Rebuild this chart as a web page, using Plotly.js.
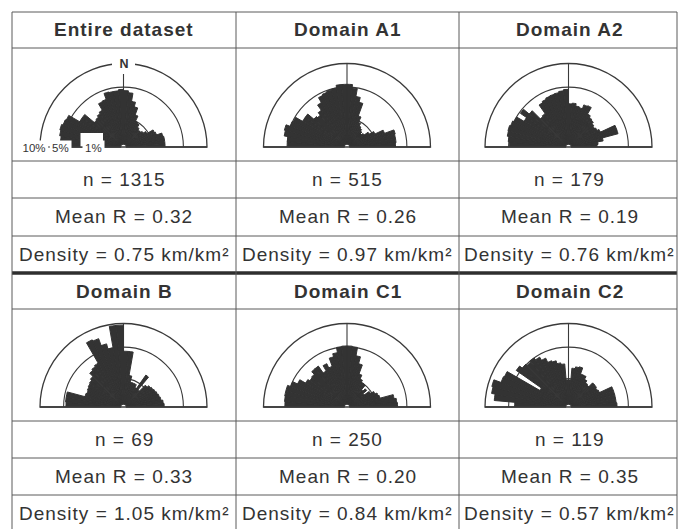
<!DOCTYPE html>
<html><head><meta charset="utf-8">
<script src="https://cdn.plot.ly/plotly-3.0.1.min.js"></script>
<style>
html,body{margin:0;padding:0;background:#fff}
.annotation-text{letter-spacing:1px}
.annotation[data-index="24"] .annotation-text,.annotation[data-index="25"] .annotation-text,.annotation[data-index="26"] .annotation-text,.annotation[data-index="27"] .annotation-text{letter-spacing:0}
</style>
</head><body>
<div id="chart" style="width:679px;height:529px"></div>
<script>
// ---------- data ----------
const panelTitles = ['Entire dataset','Domain A1','Domain A2','Domain B','Domain C1','Domain C2'];
const nLabels = ['n = 1315','n = 515','n = 179','n = 69','n = 250','n = 119'];
const meanRLabels = ['Mean R = 0.32','Mean R = 0.26','Mean R = 0.19','Mean R = 0.33','Mean R = 0.20','Mean R = 0.35'];
const densityLabels = ['Density = 0.75 km/km²','Density = 0.97 km/km²','Density = 0.76 km/km²','Density = 1.05 km/km²','Density = 0.84 km/km²','Density = 0.57 km/km²'];
const ringValues = [1, 5, 10];           // % rings
const ringLabels = ['1%', '5%', '10%'];
const northLabel = 'N';
// azimuth bin centres (degrees from north, west negative), 5° bins
const binCenters = [-87.5,-82.5,-77.5,-72.5,-67.5,-62.5,-57.5,-52.5,-47.5,-42.5,-37.5,-32.5,-27.5,-22.5,-17.5,-12.5,-7.5,-2.5,2.5,7.5,12.5,17.5,22.5,27.5,32.5,37.5,42.5,47.5,52.5,57.5,62.5,67.5,72.5,77.5,82.5,87.5];
// frequency (%) per bin
const entireDataset = [5.5,5.6,5.9,6.1,5.8,5.6,3.5,3.5,1.9,2.0,2.2,2.4,3.4,3.5,4.5,4.4,4.4,4.6,4.4,4.1,2.9,2.3,1.5,1.0,0.9,0.7,0.6,0.6,0.7,0.9,1.5,1.6,2.2,2.3,2.3,2.3];
const domainA1 = [4.9,5.0,5.7,5.9,5.1,4.9,3.6,3.6,2.5,2.3,2.7,3.6,4.5,4.7,4.9,5.0,5.5,5.5,5.5,4.9,3.6,2.9,1.4,0.9,0.7,0.6,0.5,0.4,0.5,0.8,1.2,2.1,3.4,3.3,3.3,3.2];
const domainA2 = [4.9,5.1,5.4,5.5,5.3,5.0,3.6,4.8,3.6,2.1,2.2,3.6,3.8,4.0,4.1,4.2,4.4,4.6,2.5,2.6,2.3,2.2,2.7,2.8,1.9,1.7,1.6,1.4,1.3,1.4,1.6,3.6,3.6,1.6,1.1,1.0];
const domainB = [4.6,4.7,4.7,2.1,2.0,2.1,2.2,2.3,2.5,3.1,3.3,3.5,7.8,7.5,6.0,5.0,9.6,9.6,4.3,4.3,1.3,0.8,0.8,0.8,0.6,2.0,0.6,1.2,1.4,1.5,1.6,1.7,1.8,1.9,2.1,2.2];
const domainC1 = [5.4,5.5,5.6,5.6,5.0,4.1,3.1,2.8,2.9,3.4,3.4,2.3,3.1,2.5,3.7,4.2,5.1,5.2,5.2,5.1,3.7,2.7,1.6,1.2,1.0,1.0,0.6,0.8,0.5,0.9,1.2,1.4,1.5,3.1,3.4,3.5];
const domainC2 = [4.0,7.9,8.7,9.0,7.3,7.1,1.4,5.7,5.1,4.8,5.0,4.6,4.0,3.3,3.1,2.7,2.5,0.9,0.9,2.0,2.2,2.3,1.6,1.6,1.3,1.1,1.0,1.5,1.5,1.4,1.5,3.1,3.1,3.1,3.1,3.2];
const panelValues = [entireDataset, domainA1, domainA2, domainB, domainC1, domainC2];

// ---------- layout geometry (pixels) ----------
const W = 679, H = 529;
const px = x => x / W, py = y => 1 - y / H;
const roseCx = [123.5, 347, 568.5];
const roseBase = [147, 407];
const roseR = 83.5;
const colX = [12, 236, 459, 677];
const textCx = [124, 347.5, 569.5];
const rowLines = [12, 48, 161, 198, 236, 309, 421, 458, 495];
const thickLine = 273;
const textRows = [[30, 179.5, 217, 254.5], [291, 439.5, 476.5, 513.5]];
const lineCol = '#3a3a3a';
const ink = '#333333';
const fontFam = 'Liberation Sans, Arial, Helvetica, sans-serif';

const traces = [];
const layout = {
  width: W, height: H, margin: {l:0, r:0, t:0, b:0},
  paper_bgcolor: '#fff', showlegend: false,
  shapes: [], annotations: []
};

panelValues.forEach((vals, i) => {
  const key = i === 0 ? 'polar' : 'polar' + (i + 1);
  const cx = roseCx[i % 3], by = roseBase[Math.floor(i / 3)];
  layout[key] = {
    domain: {x: [px(cx - roseR), px(cx + roseR)], y: [py(by), py(by - roseR)]},
    sector: [0, 180], hole: 0.035, bgcolor: 'rgba(0,0,0,0)',
    radialaxis: {range: [0, Math.sqrt(ringValues[2])], tickvals: ringValues.slice(0, 2).map(Math.sqrt),
      showticklabels: false, ticks: '', showline: false, gridcolor: lineCol, gridwidth: 1.1},
    angularaxis: {rotation: 90, direction: 'clockwise', tickvals: [0], showticklabels: false, ticks: '',
      showline: true, linecolor: lineCol, linewidth: 1.3, gridcolor: lineCol, gridwidth: 1.1}
  };
  traces.push({
    type: 'barpolar', subplot: key,
    r: vals.map(v => Math.sqrt(v)), theta: binCenters, width: 5,
    marker: {color: ink, line: {color: ink, width: 1}}, hoverinfo: 'skip'
  });
  // diameter baseline
  layout.shapes.push({type: 'line', xref: 'paper', yref: 'paper', layer: 'above',
    x0: px(cx - roseR), x1: px(cx + roseR), y0: py(by), y1: py(by), line: {color: lineCol, width: 1.3}});
});

// table lines
rowLines.forEach(y => layout.shapes.push({type: 'line', xref: 'paper', yref: 'paper', layer: 'above',
  x0: px(colX[0]), x1: px(colX[3]), y0: py(y), y1: py(y), line: {color: '#5a5a5a', width: 1}}));
layout.shapes.push({type: 'line', xref: 'paper', yref: 'paper', layer: 'above',
  x0: px(colX[0]), x1: px(colX[3]), y0: py(thickLine), y1: py(thickLine), line: {color: '#2e2e2e', width: 3.5}});
colX.forEach(x => layout.shapes.push({type: 'line', xref: 'paper', yref: 'paper', layer: 'above',
  x0: px(x), x1: px(x), y0: py(12), y1: py(532), line: {color: '#5a5a5a', width: 1}}));

// white masks for labels in first rose
layout.shapes.push({type: 'rect', xref: 'paper', yref: 'paper', layer: 'above',
  x0: px(80.5), x1: px(103), y0: py(146.3), y1: py(133), fillcolor: '#fff', line: {width: 0}});
layout.shapes.push({type: 'rect', xref: 'paper', yref: 'paper', layer: 'above',
  x0: px(112), x1: px(135), y0: py(74), y1: py(55), fillcolor: '#fff', line: {width: 0}});

// table texts
panelTitles.forEach((t, i) => {
  const cx = textCx[i % 3], rows = textRows[Math.floor(i / 3)];
  const texts = [t, nLabels[i], meanRLabels[i], densityLabels[i]];
  texts.forEach((s, k) => {
    layout.annotations.push({xref: 'paper', yref: 'paper', x: px(cx), y: py(rows[k]),
      xanchor: 'center', yanchor: 'middle', showarrow: false, text: k === 0 ? '<b>' + s + '</b>' : s,
      font: {family: fontFam, size: 19, color: ink}});
  });
});

// first-rose labels (indices 24..27)
const lblX = [93, 60, 34];
ringLabels.forEach((s, k) => {
  layout.annotations.push({xref: 'paper', yref: 'paper', x: px(lblX[k]), y: py(147.5),
    xanchor: 'center', yanchor: 'middle', showarrow: false, text: s, bgcolor: '#fff', borderpad: 1,
    font: {family: fontFam, size: 11.5, color: ink}});
});
layout.annotations.push({xref: 'paper', yref: 'paper', x: px(123.5), y: py(64),
  xanchor: 'center', yanchor: 'middle', showarrow: false, text: '<b>' + northLabel + '</b>',
  font: {family: fontFam, size: 12.5, color: ink}});

Plotly.newPlot('chart', traces, layout, {staticPlot: true, displayModeBar: false});
</script>
</body></html>
